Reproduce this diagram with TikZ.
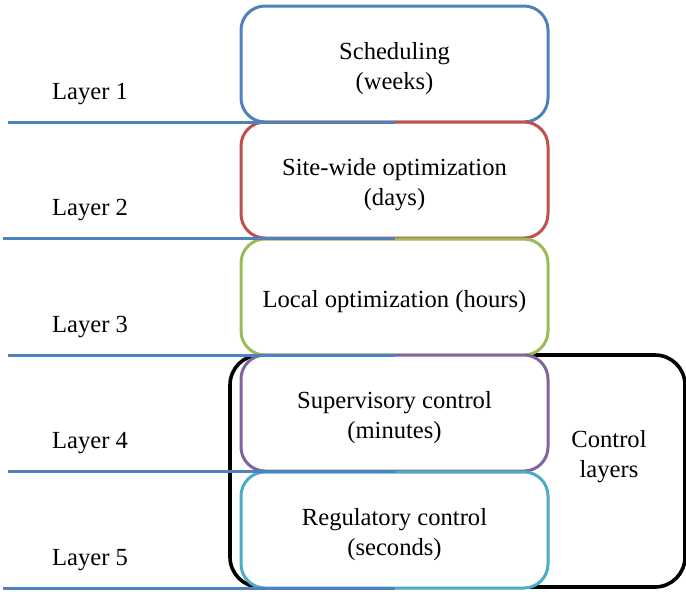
\documentclass[tikz,border=0pt]{standalone}
\usepackage{fontspec}
\setmainfont{Liberation Serif}
\usepackage{xcolor}
\usepackage{tikz}

\definecolor{lyblue}{HTML}{4F81BD}
\definecolor{lyred}{HTML}{C0504D}
\definecolor{lygreen}{HTML}{9BBB59}
\definecolor{lypurple}{HTML}{8064A2}
\definecolor{lyaqua}{HTML}{4BACC6}

\begin{document}
\begin{tikzpicture}[x=0.5pt, y=-0.5pt, every node/.style={font=\fontsize{12.3}{15}\selectfont},
    lvlbox/.style={draw, line width=1.5pt, rounded corners=12pt, fill=white, align=center,
      minimum width=153.5pt, minimum height=58pt, inner sep=0pt}]
    \useasboundingbox (0,0) rectangle (686,591);
    % control layers frame
    \node[draw=black, line width=1.8pt, rounded corners=15pt, fill=white,
      minimum width=227.5pt, minimum height=116pt] (ctrl) at (457.5,471) {};
    \node[align=center] (ctrltxt) at (609,457) {Control\\layers};
    % level boxes
    \foreach \i/\y/\c/\t in {1/64/lyblue/{Scheduling\\(weeks)},
        2/180/lyred/{Site-wide optimization\\(days)},
        3/297/lygreen/{Local optimization (hours)},
        4/413/lypurple/{Supervisory control\\(minutes)},
        5/530/lyaqua/{Regulatory control\\(seconds)}}
      \node[lvlbox, draw=\c] (b\i) at (394.5,\y) {\rule{0pt}{13pt}\t};
    % layer lines and labels
    \foreach \i/\x/\y in {1/8/122, 2/3/238, 3/8/355, 4/8/471, 5/3/588} {
      \coordinate (l\i) at (\x,\y);
      \draw[lyblue, line width=1.5pt] (l\i) -- (l\i -| b\i.south);
      \node (lab\i) at (90,\y-28) {Layer \i};
    }
  \end{tikzpicture}
\end{document}
